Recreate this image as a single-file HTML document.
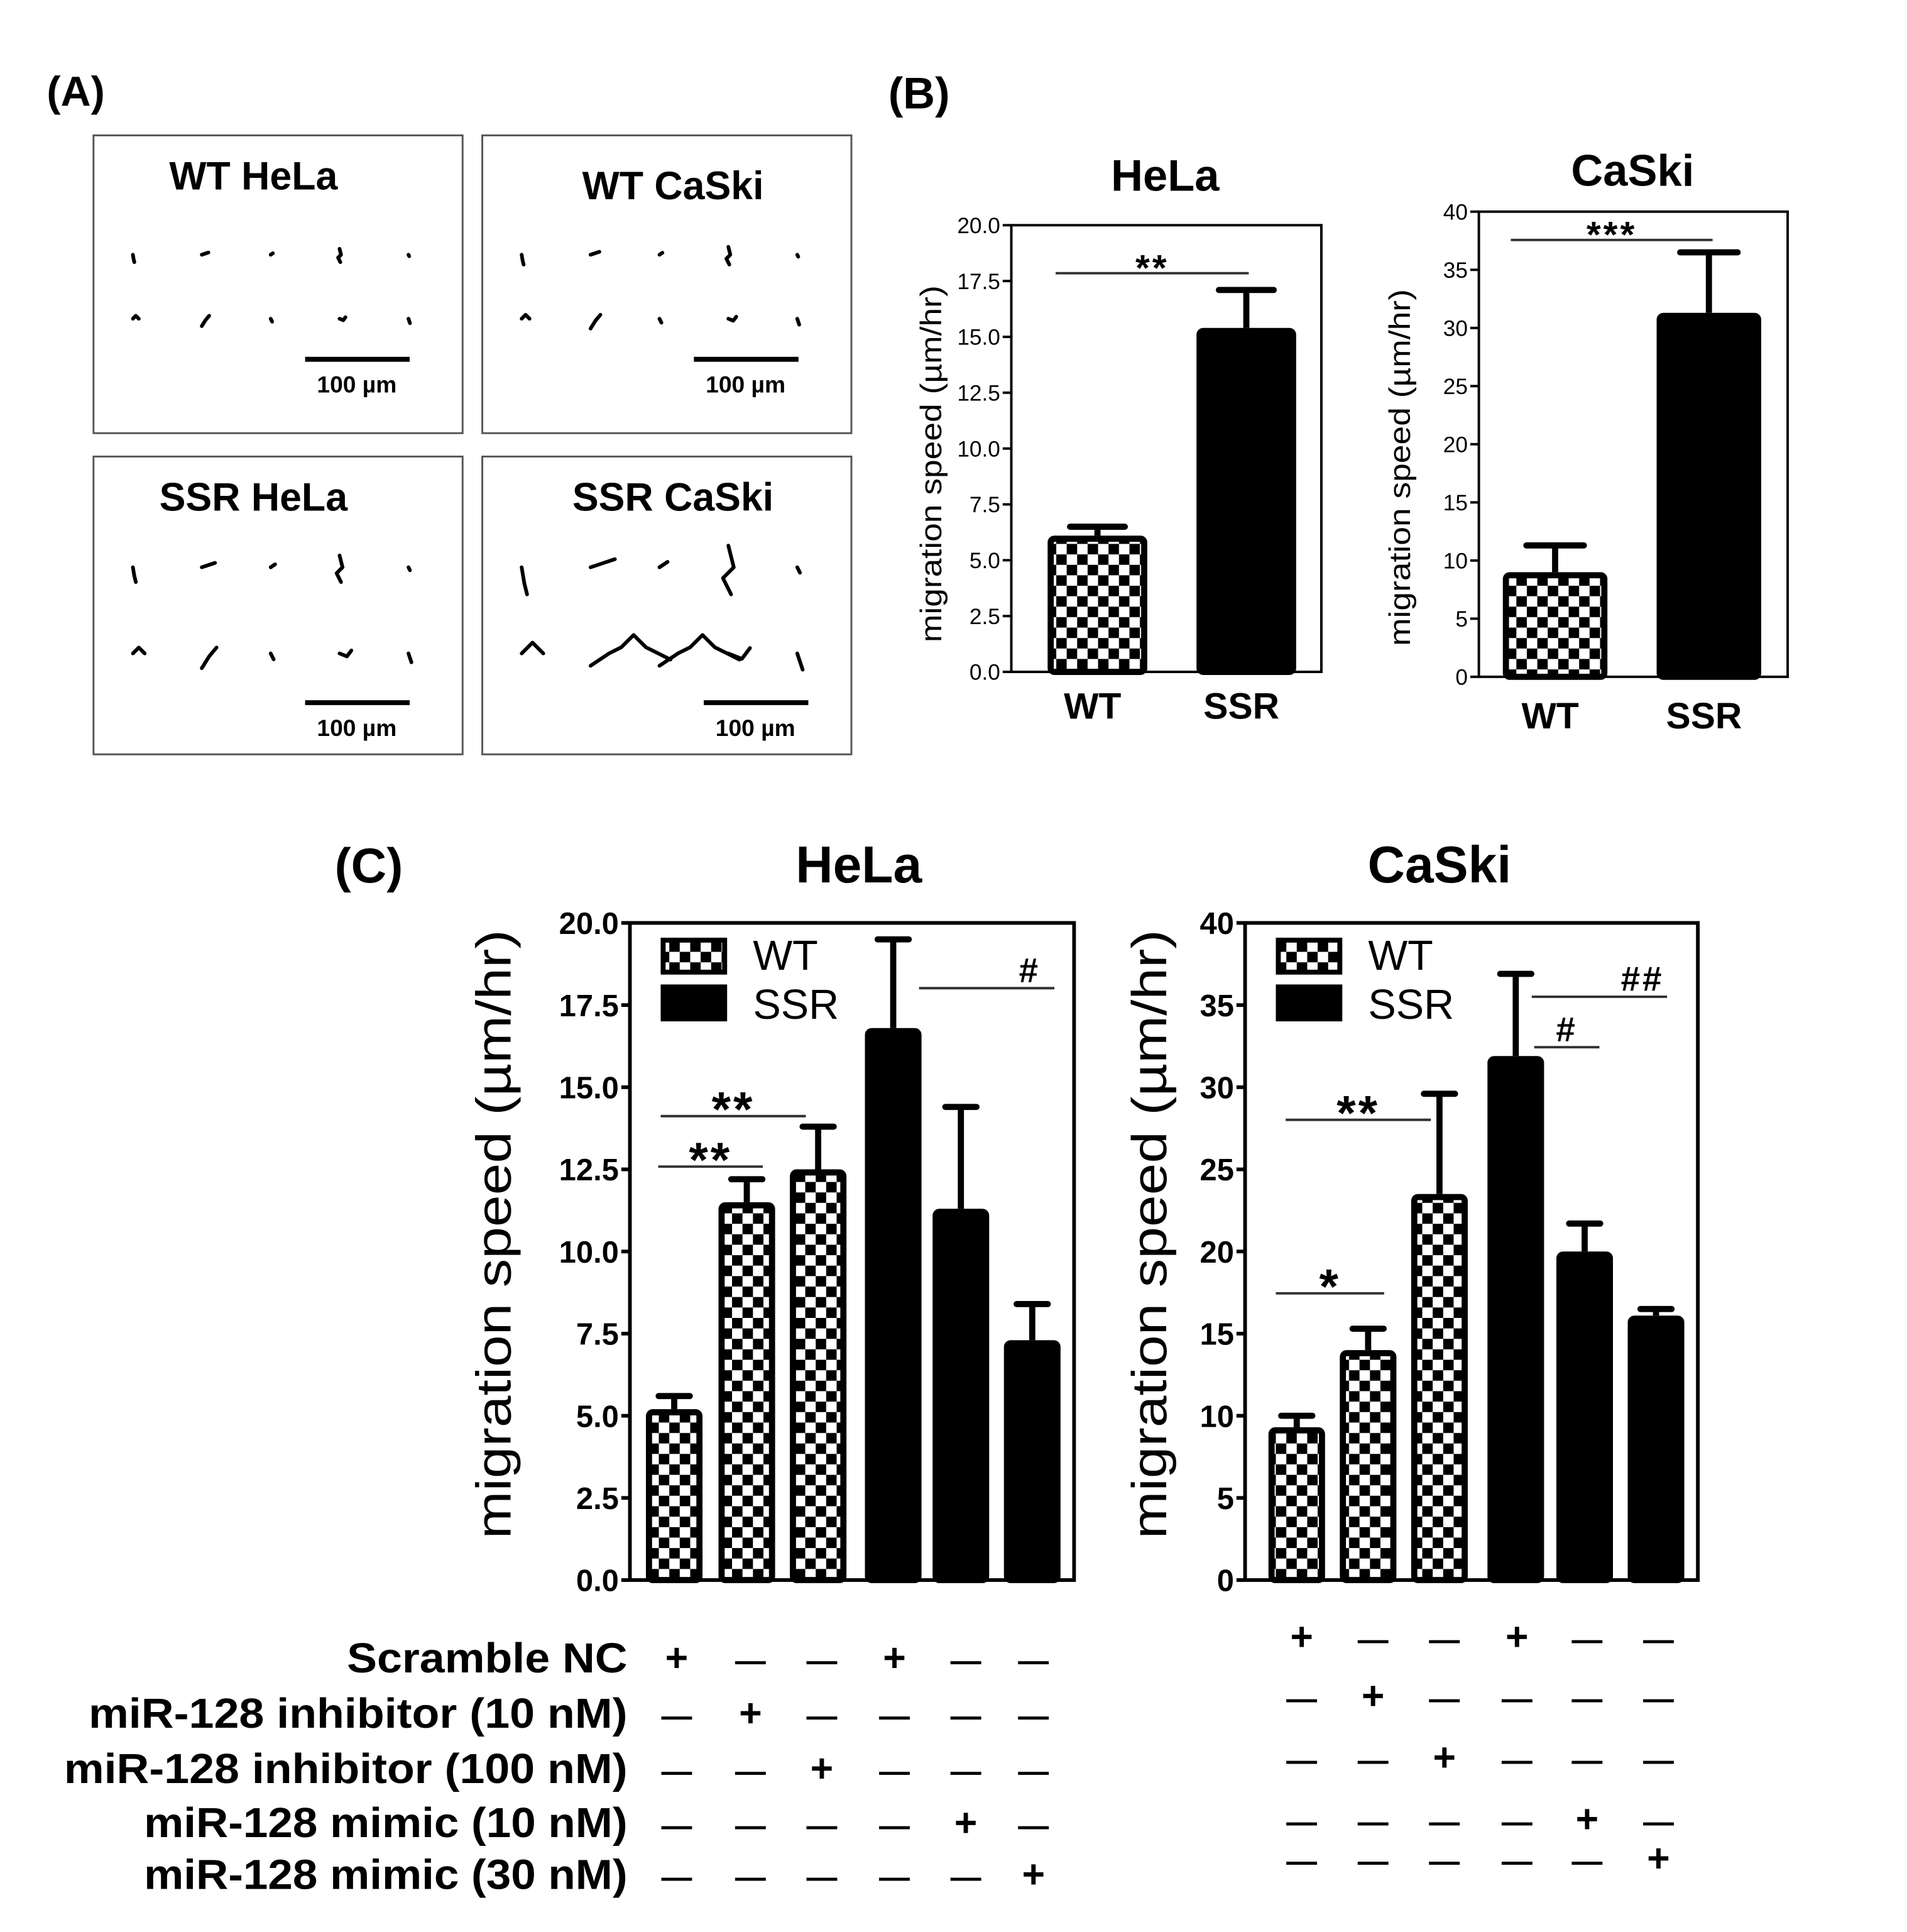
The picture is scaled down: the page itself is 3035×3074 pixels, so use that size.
<!DOCTYPE html>
<html><head><meta charset="utf-8"><style>
html,body{margin:0;padding:0;background:#fff;}
svg{display:block;font-family:"Liberation Sans",Arial,sans-serif;}
</style></head><body>
<svg id="fig" width="3035" height="3074" viewBox="0 0 1550 1570" preserveAspectRatio="none" xmlns="http://www.w3.org/2000/svg">
<defs>
<pattern id="chk" width="17" height="17" patternUnits="userSpaceOnUse">
<rect width="17" height="17" fill="#fff"/><rect width="8.5" height="8.5" fill="#000"/><rect x="8.5" y="8.5" width="8.5" height="8.5" fill="#000"/>
</pattern>
</defs>
<rect width="1550" height="1570" fill="#fff"/>
<text x="38" y="86" font-size="34" font-weight="bold">(A)</text>
<text x="722" y="88" font-size="36" font-weight="bold">(B)</text>
<text x="272" y="717" font-size="40" font-weight="bold">(C)</text>
<g id="panelA"></g>
<g id="charts"></g>
<g id="rows"></g>
</svg>
<script>
const NS="http://www.w3.org/2000/svg";
function mk(tag,attrs,parent,txt){const e=document.createElementNS(NS,tag);for(const k in attrs)e.setAttribute(k,attrs[k]);if(txt!==undefined)e.textContent=txt;parent.appendChild(e);return e;}
const A=document.getElementById('panelA');
const boxes=[["WT HeLa",76,110,0.6],["WT CaSki",392,110,0.8],["SSR HeLa",76,371,1.2],["SSR CaSki",392,371,2.2]];
const tracks=[
 [[0,0,1,6,2,10],[0,0,6,-2,9,-3],[0,0,3,-2],[0,-8,2,0,-2,4,1,10],[0,0,1,2]],
 [[0,0,4,-4,8,0],[0,10,5,2,10,-4],[0,0,2,4],[0,0,5,2,8,-2],[0,0,2,6]]
];
boxes.forEach((b,bi)=>{
 const g=mk('g',{},A);
 
 
 mk('rect',{x:b[1],y:b[2],width:300,height:242,fill:'#fff',stroke:'#555','stroke-width':1.5},g);
 const t=mk('text',{x:b[1]+(bi%2?155:130),y:b[2]+(bi==1?52:44),'font-size':32,'font-weight':'bold','text-anchor':'middle'},g,b[0]);
 
 const s=b[3];
 for(let r=0;r<2;r++)for(let c=0;c<5;c++){
   const cx=b[1]+32+c*56,cy=b[2]+(bi<2?97:90)+r*(bi<2?52:70);
   const base=tracks[r%2][c];let pts=[];
   for(let i=0;i<base.length;i+=2)pts.push((cx+base[i]*s)+','+(cy+base[i+1]*s));
   if(bi==3&&r==1&&(c==1||c==2)){pts=[cx,cy+10,cx+15,cy,cx+25,cy-5,cx+35,cy-15,cx+45,cy-5,cx+55,cy,cx+65,cy+5].reduce((a,v,i)=>{if(i%2==0)a.push(v+','+0);else a[a.length-1]=a[a.length-1].split(',')[0]+','+v;return a;},[]);}
   mk('polyline',{points:pts.join(' '),fill:'none',stroke:'#000','stroke-width':3,'stroke-linecap':'round','stroke-linejoin':'round'},g);
 }
 const sbx=b[1]+(bi==3?180:172), sby=b[2]+(bi<2?182:200);
 mk('line',{x1:sbx,y1:sby,x2:sbx+85,y2:sby,stroke:'#000','stroke-width':4},g);
 mk('text',{x:sbx+42,y:sby+27,'font-size':19,'font-weight':'bold','text-anchor':'middle'},g,'100 µm');
});

// ---- chart data ----
const bHelaVals=[6.1,15.4];const bHelaErr=[6.5,17.1];
const bCaskiVals=[9.0,31.3];const bCaskiErr=[11.3,36.5];
const bCats=["WT","SSR"];
const bHelaTicks=["0.0","2.5","5.0","7.5","10.0","12.5","15.0","17.5","20.0"];
const bCaskiTicks=["0","5","10","15","20","25","30","35","40"];
const cHelaVals=[5.2,11.5,12.5,16.8,11.3,7.3];const cHelaErr=[5.6,12.2,13.8,19.5,14.4,8.4];
const cCaskiVals=[9.3,14.0,23.5,31.9,20.0,16.1];const cCaskiErr=[10.0,15.3,29.6,36.9,21.7,16.5];
const cTypes=["WT","WT","WT","SSR","SSR","SSR"];

const charts=[
 {name:'b-hela',title:'HeLa',tx:947,ty:155,tf:36,x0:822,x1:1074,y0:183,y1:546,max:20,ticks:bHelaTicks,vals:bHelaVals,err:bHelaErr,types:bCats,centers:[892,1013],bw:81,tickF:18,tickW:'normal',yl:'migration speed (µm/hr)',ylx:765,ylf:24,ylLen:290,ylMid:377,cats:bCats,catY:584,catF:30,lw:2,
  sig:[[858,1015,222,'**',22]]},
 {name:'b-caski',title:'CaSki',tx:1327,ty:151,tf:36,x0:1202,x1:1453,y0:172,y1:550,max:40,ticks:bCaskiTicks,vals:bCaskiVals,err:bCaskiErr,types:bCats,centers:[1264,1389],bw:85,tickF:18,tickW:'normal',yl:'migration speed (µm/hr)',ylx:1146,ylf:24,ylLen:290,ylMid:380,cats:bCats,catY:592,catF:30,lw:2,
  sig:[[1228,1392,195,'***',22]]},
 {name:'c-hela',title:'HeLa',tx:698,ty:717,tf:42,x0:512,x1:873,y0:750,y1:1284,max:20,ticks:bHelaTicks,vals:cHelaVals,err:cHelaErr,types:cTypes,centers:[548,607,665,726,781,839],bw:46,tickF:25,tickW:'bold',yl:'migration speed (µm/hr)',ylx:415,ylf:40,ylLen:495,ylMid:1003,lw:3,legend:[537,762],
  sig:[[535,620,948,'**',30],[537,655,907,'**',30],[747,857,803,'#',0]]},
 {name:'c-caski',title:'CaSki',tx:1170,ty:717,tf:42,x0:1012,x1:1380,y0:750,y1:1284,max:40,ticks:bCaskiTicks,vals:cCaskiVals,err:cCaskiErr,types:cTypes,centers:[1054,1112,1170,1232,1288,1346],bw:46,tickF:25,tickW:'bold',yl:'migration speed (µm/hr)',ylx:948,ylf:40,ylLen:495,ylMid:1003,lw:3,legend:[1037,762],
  sig:[[1037,1125,1051,'*',30],[1045,1163,910,'**',30],[1247,1300,851,'#',0],[1245,1355,810,'##',0]]}
];
const root=document.getElementById('charts');
charts.forEach(c=>{
 const g=mk('g',{},root);
 
 
 const Y=v=>c.y1-(v/c.max)*(c.y1-c.y0);
 const t=mk('text',{x:c.tx,y:c.ty,'font-size':c.tf,'font-weight':'bold','text-anchor':'middle'},g,c.title);
 
 c.vals.forEach((v,i)=>{
   const x=c.centers[i]-c.bw/2, ey=Y(c.err[i]), by=Y(v);
   const cap=c.bw*0.55;
   const el=mk('line',{x1:c.centers[i],y1:ey,x2:c.centers[i],y2:by,stroke:'#000','stroke-width':5},g);
   
   mk('line',{x1:c.centers[i]-cap/2,y1:ey,x2:c.centers[i]+cap/2,y2:ey,stroke:'#000','stroke-width':5,'stroke-linecap':'round'},g);
   const wt=c.types[i]==='WT';
   const r=mk('rect',{x:x+2.5,y:by+2.5,width:c.bw-5,height:Math.max(0,c.y1-by-2.5),fill:wt?'url(#chk)':'#000',stroke:'#000','stroke-width':5,rx:3},g);
   
 });
 const ax=mk('rect',{x:c.x0,y:c.y0,width:c.x1-c.x0,height:c.y1-c.y0,fill:'none',stroke:'#000','stroke-width':c.lw},g);
 
 c.ticks.forEach((tk,i)=>{
   const yy=Y(i*c.max/(c.ticks.length-1));
   mk('line',{x1:c.x0-7,y1:yy,x2:c.x0,y2:yy,stroke:'#000','stroke-width':c.lw},g);
   const tt=mk('text',{x:c.x0-9,y:yy+c.tickF*0.36,'font-size':c.tickF,'font-weight':c.tickW,'text-anchor':'end'},g,tk);
   
 });
 const ymid=c.ylMid;
 const yl=mk('text',{x:c.ylx,y:ymid,'font-size':c.ylf,'text-anchor':'middle',textLength:c.ylLen,lengthAdjust:'spacingAndGlyphs',transform:`rotate(-90 ${c.ylx} ${ymid})`},g,c.yl);
 
 if(c.cats){c.cats.forEach((ct,i)=>{const l=mk('text',{x:c.centers[i]-4,y:c.catY,'font-size':c.catF,'font-weight':'bold','text-anchor':'middle'},g,ct);
   });}
 if(c.legend){
   const [lx,ly]=c.legend;
   const lg=mk('g',{},g);
   mk('rect',{x:lx+2,y:ly+2,width:50,height:26,fill:'url(#chk)',stroke:'#000','stroke-width':4},lg);
   mk('text',{x:lx+75,y:ly+26,'font-size':34},lg,'WT');
   mk('rect',{x:lx,y:ly+38,width:54,height:30,fill:'#000'},lg);
   mk('text',{x:lx+75,y:ly+66,'font-size':34},lg,'SSR');
 }
 c.sig.forEach(s=>{
   const sl=mk('line',{x1:s[0],y1:s[2],x2:s[1],y2:s[2],stroke:'#333','stroke-width':2},g);
   
   const isHash=s[3][0]==='#';
   const st=mk('text',{x:isHash?s[1]-14:(s[0]+s[1])/2,y:s[2]+(isHash?-5:(s[4]>25?8:6)),'font-size':isHash?28:(s[4]>25?40:30),'font-weight':'bold','text-anchor':isHash?'end':'middle','letter-spacing':'2'},g,s[3]);
   if(isHash){st.setAttribute('x',(s[0]+s[1])/2+ (s[1]-s[0]>80?35:0));st.setAttribute('text-anchor','middle');}
   
 });
});

const rowLabels=["Scramble NC","miR-128 inhibitor (10 nM)","miR-128 inhibitor (100 nM)","miR-128 mimic (10 nM)","miR-128 mimic (30 nM)"];
const rowLens=[228,438,458,393,393];
const rowY=[1347,1392,1437,1481,1523];
const rowYc=[1330,1378,1428,1478,1510];
const plusCols=[0,1,2,-1,3,4];
const rows=document.getElementById('rows');
rowLabels.forEach((lb,r)=>{
 const t=mk('text',{x:510,y:rowY[r]+12,'font-size':34,'font-weight':'bold','text-anchor':'end',textLength:rowLens[r],lengthAdjust:'spacingAndGlyphs'},rows,lb);
 
});
const hCols=[550,610,668,727,785,840],cCols=[1058,1116,1174,1233,1290,1348];
function signs(cols,ys){
 cols.forEach((x,ci)=>{
  for(let r=0;r<5;r++){
   const plus=(ci===3?r===0:plusCols[ci]===r);
   const t=mk('text',{x:x,y:ys[r]+11,'font-size':plus?32:25,'font-weight':'bold','text-anchor':'middle'},rows,plus?'+':'—');
   
  }
 });
}
signs(hCols,rowY);signs(cCols,rowYc);
</script>
</body></html>
